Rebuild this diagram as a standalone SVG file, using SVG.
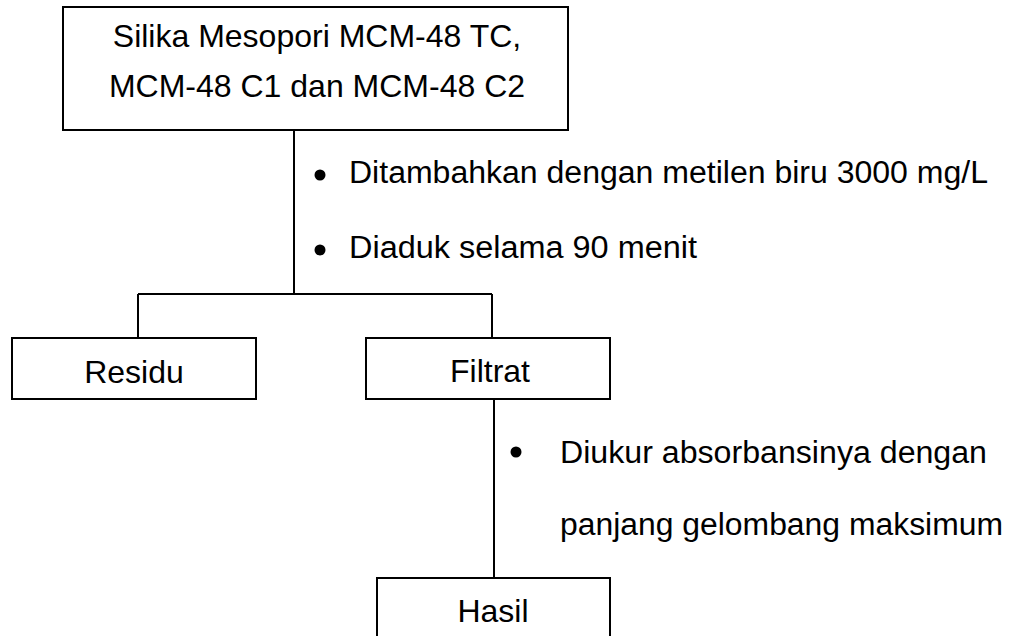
<svg xmlns="http://www.w3.org/2000/svg" width="1014" height="636" viewBox="0 0 1014 636">
  <style>
    .box { fill: #ffffff; stroke: #000000; stroke-width: 2; }
    .link { fill: none; stroke: #000000; stroke-width: 2; }
    .label { font-family: "Liberation Sans", Arial, sans-serif; font-size: 32px; fill: #000000; }
    .note { font-family: "Liberation Sans", Arial, sans-serif; font-size: 31px; fill: #000000; }
    .dot { fill: #000000; }
  </style>
  <rect width="1014" height="636" fill="#ffffff"/>

  <!-- connectors -->
  <g id="connectors">
    <path class="link" d="M294,130 V294"/>
    <path class="link" d="M138,294 H492"/>
    <path class="link" d="M138,294 V338"/>
    <path class="link" d="M492,294 V338"/>
    <path class="link" d="M494,399 V578"/>
  </g>

  <!-- process notes beside the connectors -->
  <g id="step-mixing">
    <circle class="dot" cx="320" cy="175" r="5.5"/>
    <text class="note" x="349" y="183" textLength="639" lengthAdjust="spacingAndGlyphs">Ditambahkan dengan metilen biru 3000 mg/L</text>
    <circle class="dot" cx="320" cy="250" r="5.5"/>
    <text class="note" x="349" y="258" textLength="348" lengthAdjust="spacingAndGlyphs">Diaduk selama 90 menit</text>
  </g>
  <g id="step-measure">
    <circle class="dot" cx="516" cy="452" r="5.5"/>
    <text class="note" x="560" y="463" textLength="427" lengthAdjust="spacingAndGlyphs">Diukur absorbansinya dengan</text>
    <text class="note" x="560" y="535" textLength="443" lengthAdjust="spacingAndGlyphs">panjang gelombang maksimum</text>
  </g>

  <!-- nodes -->
  <g id="node-silika">
    <rect class="box" x="63" y="7" width="505" height="123"/>
    <text class="label" x="317" y="47" text-anchor="middle">Silika Mesopori MCM-48 TC,</text>
    <text class="label" x="317" y="97" text-anchor="middle">MCM-48 C1 dan MCM-48 C2</text>
  </g>
  <g id="node-residu">
    <rect class="box" x="12" y="338" width="244" height="61"/>
    <text class="label" x="134" y="383" text-anchor="middle">Residu</text>
  </g>
  <g id="node-filtrat">
    <rect class="box" x="366" y="338" width="244" height="61"/>
    <text class="label" x="490" y="382" text-anchor="middle">Filtrat</text>
  </g>
  <g id="node-hasil">
    <rect class="box" x="377" y="578" width="233" height="70"/>
    <text class="label" x="493" y="622" text-anchor="middle">Hasil</text>
  </g>
</svg>
